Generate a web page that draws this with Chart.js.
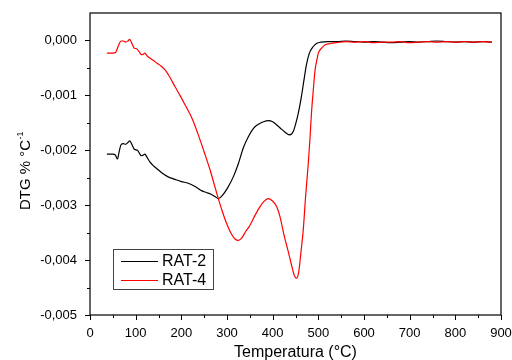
<!DOCTYPE html>
<html>
<head>
<meta charset="utf-8">
<script src="https://cdn.jsdelivr.net/npm/chart.js@4"></script>
<style>
  html, body { margin: 0; padding: 0; background: #fff; }
  #wrap { width: 512px; height: 360px; }
</style>
</head>
<body>
<div id="wrap"><canvas id="dtgChart" width="512" height="360"></canvas></div>
<script>
// RAT-2 (black)
const tempRat2 = [37, 50, 55, 60, 64, 68, 73, 78, 83, 87, 92, 97, 104, 108, 112, 116, 120, 125, 131, 140,
  150, 157, 170, 186, 200, 215, 230, 245, 255, 265, 275, 281, 290, 301, 314, 325, 336, 347, 358, 370,
  380, 390, 400, 409, 420, 430, 438, 445, 452, 458, 463, 468, 474, 480, 489, 497, 506, 520, 540, 560,
  580, 600, 620, 640, 660, 680, 700, 720, 740, 760, 780, 800, 820, 840, 860, 880];
const dtgRat2 = [-2.07, -2.07, -2.08, -2.16, -2.02, -1.90, -1.88, -1.89, -1.86, -1.83, -1.90, -1.98, -2.00, -2.05, -2.10, -2.09, -2.07, -2.13, -2.21, -2.29,
  -2.36, -2.41, -2.48, -2.53, -2.57, -2.60, -2.66, -2.74, -2.77, -2.80, -2.85, -2.88, -2.82, -2.69, -2.48, -2.24, -1.95, -1.75, -1.60, -1.52,
  -1.48, -1.46, -1.48, -1.54, -1.62, -1.69, -1.72, -1.66, -1.47, -1.25, -1.02, -0.75, -0.44, -0.24, -0.11, -0.05, -0.03, -0.02, -0.02, -0.01,
  -0.02, -0.03, -0.02, -0.03, -0.04, -0.03, -0.02, -0.03, -0.02, -0.01, -0.02, -0.03, -0.02, -0.03, -0.02, -0.03];

// RAT-4 (red)
const tempRat4 = [37, 50, 56, 62, 68, 73, 78, 83, 87, 92, 97, 102, 108, 113, 117, 120, 125, 131, 140, 146,
  155, 164, 175, 186, 197, 208, 224, 241, 252, 263, 272, 281, 290, 299, 310, 318, 325, 332, 341, 350,
  361, 372, 381, 390, 399, 409, 416, 425, 434, 441, 447, 452, 457, 462, 467, 472, 478, 482, 485, 489,
  493, 497, 500, 507, 515, 525, 540, 560, 580, 600, 620, 640, 660, 680, 700, 720, 740, 760, 780, 800,
  820, 840, 860, 880];
const dtgRat4 = [-0.23, -0.23, -0.22, -0.10, -0.01, -0.01, -0.03, -0.01, 0.02, -0.06, -0.14, -0.15, -0.21, -0.26, -0.25, -0.23, -0.28, -0.32, -0.37, -0.41,
  -0.46, -0.53, -0.67, -0.84, -1.00, -1.17, -1.43, -1.81, -2.08, -2.36, -2.62, -2.88, -3.12, -3.33, -3.53, -3.62, -3.64, -3.60, -3.48, -3.37,
  -3.19, -3.03, -2.93, -2.88, -2.92, -3.03, -3.21, -3.55, -3.84, -4.08, -4.27, -4.33, -4.22, -3.85, -3.45, -2.85, -2.24, -1.75, -1.32, -0.90,
  -0.53, -0.35, -0.23, -0.14, -0.08, -0.06, -0.04, -0.02, -0.03, -0.02, -0.04, -0.03, -0.03, -0.02, -0.04, -0.03, -0.02, -0.03, -0.02, -0.03,
  -0.02, -0.03, -0.02, -0.03];

const seriesNames = ['RAT-2', 'RAT-4'];
const xTitle = 'Temperatura (°C)';
const yTitle = 'DTG % °C';

function toPoints(temps, vals) {
  return temps.map((t, i) => ({ x: t, y: vals[i] / 1000 }));
}

function isMajor(v, step) {
  const r = v / step;
  return Math.abs(r - Math.round(r)) < 1e-6;
}

function fmtY(v) {
  const n = Math.round(v * 1000);
  const s = (Math.abs(n) / 1000).toFixed(3).replace('.', ',');
  return n < 0 ? '-' + s : s;
}

function noOverhang(s) {
  s.paddingLeft = 0;
  s.paddingRight = 0;
  s.paddingTop = 0;
  s.paddingBottom = 0;
}

// frame, tick marks, y title and legend box
const decorPlugin = {
  id: 'decor',
  afterDraw(chart) {
    const ctx = chart.ctx;
    const a = chart.chartArea;
    const xs = chart.scales.x;
    const ys = chart.scales.y;
    ctx.save();
    ctx.strokeStyle = '#000';
    ctx.lineWidth = 1.2;
    ctx.strokeRect(a.left, a.top, a.right - a.left, a.bottom - a.top);

    ctx.lineWidth = 1;
    ctx.beginPath();
    xs.ticks.forEach(t => {
      const px = Math.round(xs.getPixelForValue(t.value)) + 0.5;
      const len = isMajor(t.value, 100) ? 5 : 3;
      ctx.moveTo(px, a.bottom);
      ctx.lineTo(px, a.bottom + len);
    });
    ys.ticks.forEach(t => {
      if (t.value > 0.0001) return;
      const py = Math.round(ys.getPixelForValue(t.value)) + 0.5;
      const len = isMajor(t.value, 0.001) ? 5 : 3;
      ctx.moveTo(a.left, py);
      ctx.lineTo(a.left - len, py);
    });
    ctx.stroke();

    // y title with superscript
    ctx.fillStyle = '#000';
    ctx.translate(30, 171);
    ctx.rotate(-Math.PI / 2);
    ctx.font = '15px "Liberation Sans", Arial, sans-serif';
    const w1 = ctx.measureText(yTitle).width;
    ctx.font = '9px "Liberation Sans", Arial, sans-serif';
    const w2 = ctx.measureText('-1').width;
    const x0 = -(w1 + w2) / 2;
    ctx.font = '15px "Liberation Sans", Arial, sans-serif';
    ctx.textBaseline = 'alphabetic';
    ctx.textAlign = 'left';
    ctx.fillText(yTitle, x0, 0);
    ctx.font = '9px "Liberation Sans", Arial, sans-serif';
    ctx.fillText('-1', x0 + w1 + 0.5, -7);
    ctx.setTransform(1, 0, 0, 1, 0, 0);

    // legend
    ctx.strokeStyle = '#444';
    ctx.lineWidth = 1;
    ctx.strokeRect(113.5, 249.5, 100, 40);
    const rows = [261.5, 280.5];
    chart.data.datasets.forEach((ds, i) => {
      ctx.strokeStyle = ds.borderColor;
      ctx.lineWidth = ds.borderWidth;
      ctx.beginPath();
      ctx.moveTo(121, rows[i]);
      ctx.lineTo(158, rows[i]);
      ctx.stroke();
      ctx.fillStyle = '#000';
      ctx.font = '16px "Liberation Sans", Arial, sans-serif';
      ctx.textBaseline = 'middle';
      ctx.fillText(ds.label, 162, rows[i] + 0.5);
    });
    ctx.restore();
  }
};

const ctx = document.getElementById('dtgChart');
new Chart(ctx, {
  type: 'line',
  data: {
    datasets: [
      {
        label: seriesNames[0],
        data: toPoints(tempRat2, dtgRat2),
        borderColor: '#000000',
        borderWidth: 1.2,
        pointRadius: 0,
        cubicInterpolationMode: 'monotone',
        order: 2
      },
      {
        label: seriesNames[1],
        data: toPoints(tempRat4, dtgRat4),
        borderColor: '#ff0000',
        borderWidth: 1.2,
        pointRadius: 0,
        cubicInterpolationMode: 'monotone',
        order: 1
      }
    ]
  },
  options: {
    responsive: false,
    animation: false,
    layout: { padding: { left: 0, right: 11, top: 13, bottom: 0 } },
    plugins: {
      legend: { display: false },
      tooltip: { enabled: false }
    },
    scales: {
      x: {
        type: 'linear',
        min: 0,
        max: 900,
        grid: { display: false },
        border: { display: false },
        ticks: {
          stepSize: 50,
          autoSkip: false,
          maxRotation: 0,
          padding: 3,
          color: '#000',
          font: { family: '"Liberation Sans", Arial, sans-serif', size: 13 },
          callback: v => isMajor(v, 100) ? String(v) : ''
        },
        title: {
          display: true,
          text: xTitle,
          color: '#000',
          padding: { top: 6, bottom: -2 },
          font: { family: '"Liberation Sans", Arial, sans-serif', size: 16 }
        },
        afterFit: s => { s.height = 45; noOverhang(s); }
      },
      y: {
        min: -0.005,
        max: 0.0005,
        grid: { display: false },
        border: { display: false },
        ticks: {
          stepSize: 0.0005,
          autoSkip: false,
          padding: 5,
          color: '#000',
          font: { family: '"Liberation Sans", Arial, sans-serif', size: 13 },
          callback: v => (v < 0.0001 && isMajor(v, 0.001)) ? fmtY(v) : ''
        },
        afterFit: s => { s.width = 90; noOverhang(s); }
      }
    }
  },
  plugins: [decorPlugin]
});
</script>
</body>
</html>
